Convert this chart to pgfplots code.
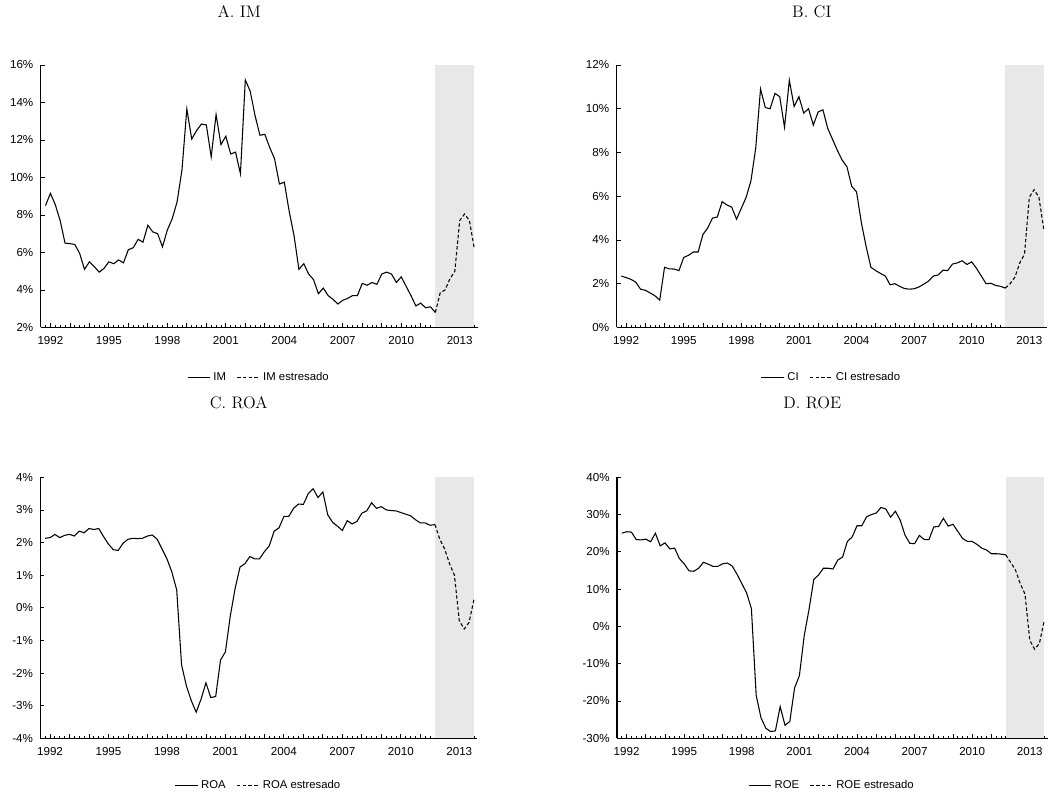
\documentclass[border=0pt]{standalone}
\usepackage{pgfplots}
\pgfplotsset{compat=1.18}
\usepackage{fontspec}
\newfontfamily\arial{Liberation Sans}
\definecolor{shade}{RGB}{232,232,232}

\pgfplotsset{
  panel/.style={
    scale only axis,
    axis lines*=left,
    axis line style={line width=0.8pt},
    tick align=inside,
    xmin=-2, xmax=87.7,
    xtick={0,4,...,84},
    xticklabels={1992,,,1995,,,1998,,,2001,,,2004,,,2007,,,2010,,,2013},
    minor xtick={-1,0,...,87},
    major tick length=3pt,
    minor tick length=1.5pt,
    every tick/.style={black, line width=0.6pt},
    tick label style={font=\arial\fontsize{8.7}{9.5}\selectfont},
    xticklabel style={yshift=-3.5pt},
    yticklabel style={xshift=-2pt},
    title style={font=\fontsize{12.5}{14}\selectfont, at={(0.5,1)}, anchor=center, xshift=-15pt},
    legend style={draw=none, fill=none, legend columns=2, font=\arial\fontsize{8.5}{9.5}\selectfont,
      /tikz/every even column/.append style={column sep=6pt}},
    legend cell align=left,
  },
  act/.style={black, line width=0.8pt},
  str/.style={black, line width=0.8pt, dash pattern=on 2.6pt off 1.7pt},
}

\begin{document}
\begin{tikzpicture}
\path[use as bounding box] (0,0) rectangle (789pt,-594.75pt);

% ---------------- A. IM
\begin{axis}[panel, at={(30.5pt,-245.6pt)}, anchor=south west,
  width=327.8pt, height=196.9pt,
  ymin=2, ymax=16, ytick={2,4,...,16},
  yticklabels={2\%,4\%,6\%,8\%,10\%,12\%,14\%,16\%},
  title={A. IM}, title style={yshift=34pt},
  legend style={at={(0.5,-0.192)}, anchor=center}]
\addplot[fill=shade, draw=none, forget plot] coordinates {(79,2) (79,16) (87,16) (87,2)} -- cycle;
\addplot[act] coordinates {
(-1,8.50) (0,9.15) (1,8.55) (2,7.7) (3,6.5) (4,6.47) (5,6.43) (6,5.95) (7,5.1) (8,5.5)
(9,5.25) (10,4.95) (11,5.15) (12,5.5) (13,5.4) (14,5.6) (15,5.45) (16,6.15) (17,6.25) (18,6.7)
(19,6.55) (20,7.45) (21,7.1) (22,7.0) (23,6.3) (24,7.2) (25,7.8) (26,8.7) (27,10.4) (28,13.65)
(29,12.05) (30,12.5) (31,12.85) (32,12.8) (33,11.1) (34,13.35) (35,11.75) (36,12.2) (37,11.25) (38,11.35)
(39,10.2) (40,15.2) (41,14.6) (42,13.3) (43,12.25) (44,12.3) (45,11.6) (46,11.0) (47,9.65) (48,9.75)
(49,8.2) (50,6.9) (51,5.1) (52,5.4) (53,4.85) (54,4.55) (55,3.8) (56,4.1) (57,3.7) (58,3.5)
(59,3.25) (60,3.45) (61,3.55) (62,3.7) (63,3.7) (64,4.35) (65,4.25) (66,4.4) (67,4.3) (68,4.85)
(69,4.95) (70,4.85) (71,4.4) (72,4.7) (73,4.2) (74,3.7) (75,3.15) (76,3.3) (77,3.05) (78,3.1)
(79,2.8)};
\addlegendentry{IM}
\addplot[str] coordinates {(79,2.8) (80,3.85) (81,4.0) (82,4.6) (83,5.0) (84,7.7) (85,8.05) (86,7.7) (87,6.2)};
\addlegendentry{IM estresado}
\end{axis}

% ---------------- B. CI
\begin{axis}[panel, at={(462.4pt,-245.6pt)}, anchor=south west,
  width=322.9pt, height=196.9pt,
  ymin=0, ymax=12, ytick={0,2,...,12},
  yticklabels={0\%,2\%,4\%,6\%,8\%,10\%,12\%},
  title={B. CI}, title style={yshift=34pt},
  legend style={at={(0.5,-0.192)}, anchor=center}]
\addplot[fill=shade, draw=none, forget plot] coordinates {(79,0) (79,12) (87,12) (87,0)} -- cycle;
\addplot[act] coordinates {
(-1,2.35) (0,2.28) (1,2.2) (2,2.07) (3,1.75) (4,1.7) (5,1.58) (6,1.45) (7,1.25) (8,2.75)
(9,2.68) (10,2.67) (11,2.6) (12,3.2) (13,3.3) (14,3.45) (15,3.45) (16,4.25) (17,4.55) (18,5.0)
(19,5.05) (20,5.75) (21,5.6) (22,5.5) (23,4.95) (24,5.45) (25,5.95) (26,6.7) (27,8.2) (28,10.9)
(29,10.05) (30,10.0) (31,10.7) (32,10.55) (33,9.15) (34,11.3) (35,10.1) (36,10.55) (37,9.8) (38,10.0)
(39,9.25) (40,9.85) (41,9.95) (42,9.1) (43,8.6) (44,8.1) (45,7.65) (46,7.35) (47,6.45) (48,6.2)
(49,4.8) (50,3.7) (51,2.75) (52,2.6) (53,2.47) (54,2.35) (55,1.95) (56,2.0) (57,1.88) (58,1.78)
(59,1.75) (60,1.77) (61,1.85) (62,1.98) (63,2.12) (64,2.35) (65,2.4) (66,2.62) (67,2.6) (68,2.9)
(69,2.95) (70,3.05) (71,2.88) (72,3.0) (73,2.7) (74,2.35) (75,2.0) (76,2.02) (77,1.92) (78,1.88)
(79,1.8)};
\addlegendentry{CI}
\addplot[str] coordinates {(79,1.8) (80,2.0) (81,2.3) (82,2.95) (83,3.35) (84,5.95) (85,6.3) (86,5.95) (87,4.5)};
\addlegendentry{CI estresado}
\end{axis}

% ---------------- C. ROA
\begin{axis}[panel, at={(30.2pt,-553.7pt)}, anchor=south west,
  width=327.8pt, height=195.75pt,
  ymin=-4, ymax=4, ytick={-4,-3,...,4},
  yticklabels={-4\%,-3\%,-2\%,-1\%,0\%,1\%,2\%,3\%,4\%},
  title={C. ROA}, title style={yshift=50pt},
  legend style={at={(0.5,-0.18)}, anchor=center}]
\addplot[fill=shade, draw=none, forget plot] coordinates {(79,-4) (79,4) (87,4) (87,-4)} -- cycle;
\addplot[act] coordinates {
(-1,2.13) (0,2.15) (1,2.25) (2,2.15) (3,2.22) (4,2.25) (5,2.2) (6,2.35) (7,2.3) (8,2.43)
(9,2.4) (10,2.43) (11,2.18) (12,1.95) (13,1.78) (14,1.76) (15,1.98) (16,2.1) (17,2.13) (18,2.12)
(19,2.13) (20,2.2) (21,2.23) (22,2.1) (23,1.8) (24,1.5) (25,1.1) (26,0.55) (27,-1.75) (28,-2.4)
(29,-2.85) (30,-3.2) (31,-2.8) (32,-2.3) (33,-2.75) (34,-2.72) (35,-1.6) (36,-1.35) (37,-0.25) (38,0.6)
(39,1.25) (40,1.35) (41,1.57) (42,1.5) (43,1.5) (44,1.72) (45,1.9) (46,2.35) (47,2.45) (48,2.8)
(49,2.8) (50,3.05) (51,3.18) (52,3.17) (53,3.5) (54,3.65) (55,3.38) (56,3.55) (57,2.85) (58,2.62)
(59,2.5) (60,2.37) (61,2.67) (62,2.57) (63,2.65) (64,2.9) (65,2.97) (66,3.22) (67,3.05) (68,3.1)
(69,3.0) (70,2.98) (71,2.97) (72,2.92) (73,2.87) (74,2.82) (75,2.7) (76,2.6) (77,2.6) (78,2.53)
(79,2.55)};
\addlegendentry{ROA}
\addplot[str] coordinates {(79,2.55) (80,2.1) (81,1.8) (82,1.35) (83,1.0) (84,-0.4) (85,-0.65) (86,-0.45) (87,0.25)};
\addlegendentry{ROA estresado}
\end{axis}

% ---------------- D. ROE
\begin{axis}[panel, at={(462.75pt,-553.7pt)}, anchor=south west,
  width=322.9pt, height=195.75pt,
  ymin=-30, ymax=40, ytick={-30,-20,...,40},
  yticklabels={-30\%,-20\%,-10\%,0\%,10\%,20\%,30\%,40\%},
  title={D. ROE}, title style={yshift=50pt},
  legend style={at={(0.5,-0.18)}, anchor=center}]
\addplot[fill=shade, draw=none, forget plot] coordinates {(79,-30) (79,40) (87,40) (87,-30)} -- cycle;
\addplot[act] coordinates {
(-1,25.0) (0,25.4) (1,25.3) (2,23.3) (3,23.2) (4,23.4) (5,22.7) (6,25.0) (7,21.6) (8,22.4)
(9,20.8) (10,21.0) (11,18.2) (12,16.8) (13,14.9) (14,14.8) (15,15.6) (16,17.2) (17,16.7) (18,16.1)
(19,16.1) (20,16.8) (21,17.0) (22,16.2) (23,14.0) (24,11.5) (25,9.0) (26,4.8) (27,-18.5) (28,-24.5)
(29,-27.3) (30,-28.2) (31,-28.0) (32,-21.5) (33,-26.5) (34,-25.5) (35,-16.5) (36,-13.2) (37,-2.5) (38,4.5)
(39,12.6) (40,13.8) (41,15.6) (42,15.6) (43,15.4) (44,17.8) (45,18.6) (46,22.8) (47,24.0) (48,27.0)
(49,27.0) (50,29.4) (51,30.0) (52,30.4) (53,31.9) (54,31.5) (55,29.3) (56,30.9) (57,28.5) (58,24.5)
(59,22.3) (60,22.2) (61,24.4) (62,23.3) (63,23.3) (64,26.7) (65,26.8) (66,29.0) (67,26.9) (68,27.4)
(69,25.5) (70,23.6) (71,22.8) (72,22.8) (73,22.0) (74,21.0) (75,20.5) (76,19.5) (77,19.5) (78,19.4)
(79,19.2)};
\addlegendentry{ROE}
\addplot[str] coordinates {(79,19.2) (80,17.2) (81,15.2) (82,11.5) (83,8.7) (84,-3.7) (85,-6.1) (86,-4.6) (87,1.5)};
\addlegendentry{ROE estresado}
\end{axis}
\end{tikzpicture}
\end{document}
